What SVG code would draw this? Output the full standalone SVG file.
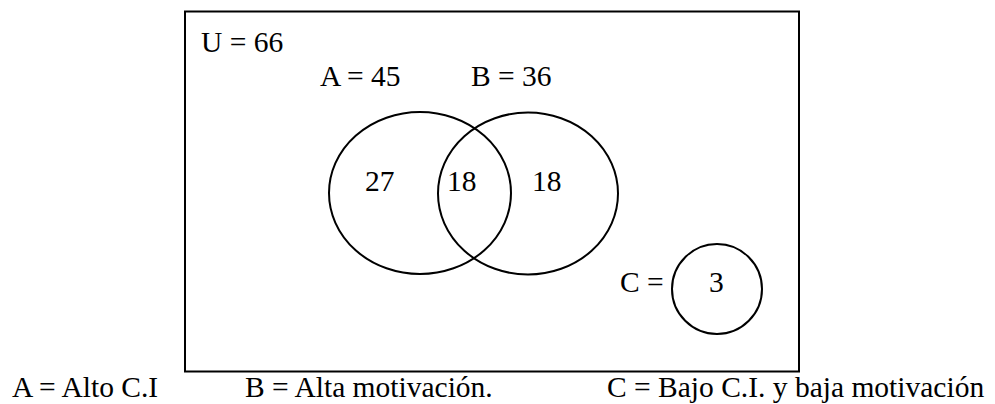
<svg xmlns="http://www.w3.org/2000/svg" width="995" height="404" viewBox="0 0 995 404">
<style>
text{font-family:"Liberation Serif","Times New Roman",serif;font-size:29.5px;fill:#000}
.s{fill:none;stroke:#000;stroke-width:2}
</style>
<rect width="995" height="404" fill="#fff"/>
<g id="universe">
<rect class="s" x="185" y="11.5" width="614" height="360"/>
<text x="201" y="52">U = 66</text>
</g>
<g id="setA">
<ellipse class="s" cx="420" cy="193" rx="91" ry="81"/>
<text x="320" y="86">A = 45</text>
<text x="365" y="191">27</text>
</g>
<g id="setB">
<ellipse class="s" cx="528" cy="193.5" rx="90" ry="81"/>
<text x="471" y="86">B = 36</text>
<text x="532" y="191">18</text>
</g>
<g id="intersection">
<text x="447" y="191">18</text>
</g>
<g id="setC">
<circle class="s" cx="717" cy="289" r="45"/>
<text x="620" y="292">C =</text>
<text x="709" y="292">3</text>
</g>
<g id="connectors"/>
<g id="legend">
<text x="12" y="397">A = Alto C.I</text>
<text x="245" y="397">B = Alta motivación.</text>
<text x="607" y="397">C = Bajo C.I. y baja motivación</text>
</g>
</svg>
